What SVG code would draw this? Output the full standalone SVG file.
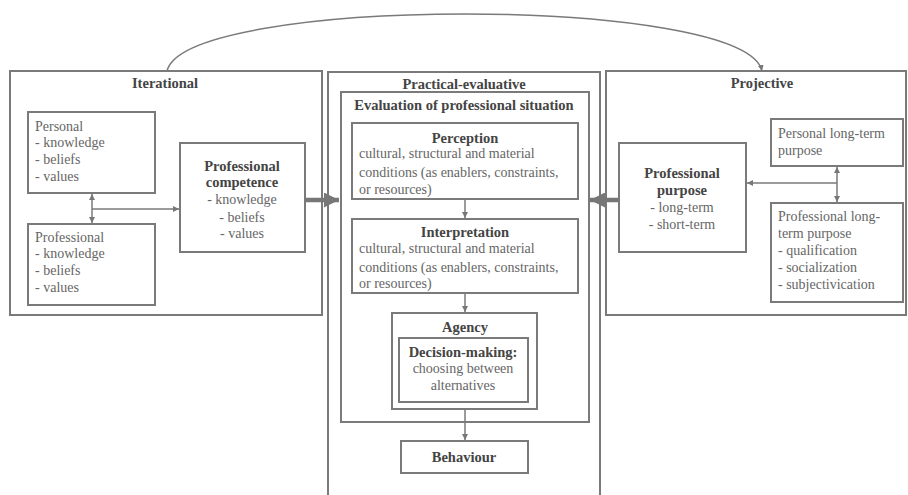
<svg xmlns="http://www.w3.org/2000/svg" width="908" height="495" viewBox="0 0 908 495">
<defs>
<style>
.box{fill:none;stroke:#7a7a7a;stroke-width:2}
.t{font-family:'Liberation Serif','DejaVu Serif',serif;font-size:14px;fill:#666}
.b{font-family:'Liberation Serif','DejaVu Serif',serif;font-size:14.5px;font-weight:bold;fill:#444}
.c{text-anchor:middle}
.ln{fill:none;stroke:#7a7a7a;stroke-width:1.5}
.thick{fill:none;stroke:#777;stroke-width:4.5}
</style>
<marker id="ah" viewBox="0 0 10 10" refX="10" refY="5" markerWidth="6" markerHeight="6" markerUnits="userSpaceOnUse" orient="auto-start-reverse">
<path d="M0,0 L10,5 L0,10 z" fill="#777"/>
</marker>
<marker id="big" viewBox="0 0 10 10" refX="10" refY="5" markerWidth="15" markerHeight="15" markerUnits="userSpaceOnUse" orient="auto">
<path d="M0,0 L10,5 L0,10 z" fill="#777"/>
</marker>
</defs>
<rect width="908" height="495" fill="#fff"/>

<g id="iterational">
<rect class="box" x="10" y="71" width="312" height="244"/>
<text class="b c" x="165" y="88">Iterational</text>
</g>
<g id="personal">
<rect class="box" x="28" y="112" width="127" height="81"/>
<text class="t" x="35" y="131">Personal</text>
<text class="t" x="35" y="147">- knowledge</text>
<text class="t" x="35" y="164">- beliefs</text>
<text class="t" x="35" y="181">- values</text>
</g>
<g id="professional">
<rect class="box" x="28" y="224" width="127" height="81"/>
<text class="t" x="35" y="242">Professional</text>
<text class="t" x="35" y="258">- knowledge</text>
<text class="t" x="35" y="275">- beliefs</text>
<text class="t" x="35" y="292">- values</text>
</g>
<g id="competence">
<rect class="box" x="180" y="143" width="125" height="109"/>
<text class="b c" x="242" y="171">Professional</text>
<text class="b c" x="242" y="187">competence</text>
<text class="t c" x="242" y="204">- knowledge</text>
<text class="t c" x="242" y="222">- beliefs</text>
<text class="t c" x="242" y="238">- values</text>
</g>

<g id="practical">
<rect class="box" x="328" y="72" width="272" height="440"/>
<text class="b c" x="464" y="89">Practical-evaluative</text>
</g>
<g id="evaluation">
<rect class="box" x="341" y="92" width="248" height="330"/>
<text class="b c" x="464" y="110">Evaluation of professional situation</text>
</g>
<g id="perception">
<rect class="box" x="352" y="123" width="226" height="76"/>
<text class="b c" x="465" y="143">Perception</text>
<text class="t" x="359" y="158">cultural, structural and material</text>
<text class="t" x="359" y="177">conditions (as enablers, constraints,</text>
<text class="t" x="359" y="194">or resources)</text>
</g>
<g id="interpretation">
<rect class="box" x="352" y="219" width="226" height="74"/>
<text class="b c" x="465" y="237">Interpretation</text>
<text class="t" x="359" y="253">cultural, structural and material</text>
<text class="t" x="359" y="272">conditions (as enablers, constraints,</text>
<text class="t" x="359" y="288">or resources)</text>
</g>
<g id="agency">
<rect class="box" x="392" y="313" width="145" height="96"/>
<text class="b c" x="465" y="332">Agency</text>
</g>
<g id="decision">
<rect class="box" x="399" y="338" width="129" height="64"/>
<text class="b c" x="463" y="357">Decision-making:</text>
<text class="t c" x="463" y="373">choosing between</text>
<text class="t c" x="463" y="390">alternatives</text>
</g>
<g id="behaviour">
<rect class="box" x="401" y="441" width="127" height="32"/>
<text class="b c" x="464" y="462">Behaviour</text>
</g>

<g id="projective">
<rect class="box" x="606" y="71" width="300" height="244"/>
<text class="b c" x="762" y="88">Projective</text>
</g>
<g id="purpose">
<rect class="box" x="619" y="143" width="127" height="109"/>
<text class="b c" x="682" y="178">Professional</text>
<text class="b c" x="682" y="195">purpose</text>
<text class="t c" x="682" y="212">- long-term</text>
<text class="t c" x="682" y="229">- short-term</text>
</g>
<g id="personal-lt">
<rect class="box" x="771" y="119" width="132" height="47"/>
<text class="t" x="778" y="138">Personal long-term</text>
<text class="t" x="778" y="155">purpose</text>
</g>
<g id="professional-lt">
<rect class="box" x="771" y="203" width="132" height="99"/>
<text class="t" x="778" y="221">Professional long-</text>
<text class="t" x="778" y="238">term purpose</text>
<text class="t" x="778" y="255">- qualification</text>
<text class="t" x="778" y="272">- socialization</text>
<text class="t" x="778" y="289">- subjectivication</text>
</g>

<g id="connectors">
<path class="ln" d="M167,71 C185,-5 745,-5 762,71" marker-end="url(#ah)"/>
<line class="ln" x1="92" y1="194" x2="92" y2="223" marker-start="url(#ah)" marker-end="url(#ah)"/>
<line class="ln" x1="92" y1="209" x2="179" y2="209" marker-end="url(#ah)"/>
<line class="ln" x1="837" y1="167" x2="837" y2="202" marker-start="url(#ah)" marker-end="url(#ah)"/>
<line class="ln" x1="837" y1="183" x2="747" y2="183" marker-end="url(#ah)"/>
<line class="ln" x1="465" y1="199" x2="465" y2="218" marker-end="url(#ah)"/>
<line class="ln" x1="465" y1="293" x2="465" y2="312" marker-end="url(#ah)"/>
<line class="ln" x1="465" y1="409" x2="465" y2="440" marker-end="url(#ah)"/>
<line class="thick" x1="306" y1="200" x2="339" y2="200" marker-end="url(#big)"/>
<line class="thick" x1="618" y1="200" x2="590" y2="200" marker-end="url(#big)"/>
</g>
</svg>
